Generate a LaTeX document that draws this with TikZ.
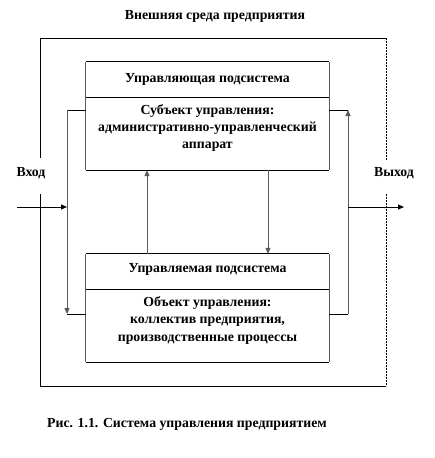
\documentclass[tikz,border=0pt]{standalone}
\usepackage{fontspec}
\setmainfont{Liberation Serif}
\usetikzlibrary{arrows.meta}
\begin{document}
\begin{tikzpicture}[x=1pt,y=-1pt,
  hl/.style={line width=0.8pt, draw=black},
  vl/.style={line width=1pt, draw=black!65},
  arr/.style={-{Triangle[length=6pt,width=5pt]}},
  txt/.style={font=\bfseries\fontsize{13.8}{17.3}\selectfont, inner sep=0pt, align=center}]
\useasboundingbox (0,0) rectangle (435,458);
% outer environment frame
\coordinate (oTL) at (40,38);
\coordinate (oTR) at (386,38);
\coordinate (oBL) at (40,386);
\coordinate (oBR) at (386,386);
\coordinate (oLg1) at (40,158);
\coordinate (oLg2) at (40,194);
\coordinate (oRg1) at (386,160);
\coordinate (oRg2) at (386,194);
\draw[hl] (oLg1) -- (oTL) -- (oTR);
\draw[hl] (oLg2) -- (oBL) -- (oBR);
\draw[line width=0.7pt, dash pattern=on 2pt off 1pt] (oTR) -- (oRg1);
\draw[line width=0.7pt, dash pattern=on 2pt off 1pt] (oRg2) -- (oBR);
\node[txt] (env) at (215,16) {Внешняя среда предприятия};
% upper box
\node[draw=none, minimum width=243pt, minimum height=36pt, inner sep=0pt] (uhead) at (207.5,80) {};
\node[draw=none, minimum width=243pt, minimum height=72pt, inner sep=0pt] (ubody) at (207.5,134) {};
\draw[hl] (uhead.north west) -- (uhead.north east);
\draw[hl] (ubody.north west) -- (ubody.north east);
\draw[hl] (ubody.south west) -- (ubody.south east);
\draw[vl] (uhead.north west) -- (ubody.south west);
\draw[vl] (uhead.north east) -- (ubody.south east);
\node[txt] (uheadt) at (207.5,79) {Управляющая подсистема};
\node[txt] (ubodyt) at (207.5,128) {Субъект управления:\\административно-управленческий\\аппарат};
% lower box
\node[draw=none, minimum width=243pt, minimum height=36pt, inner sep=0pt] (lhead) at (207.5,272) {};
\node[draw=none, minimum width=243pt, minimum height=72pt, inner sep=0pt] (lbody) at (207.5,326) {};
\draw[hl] (lhead.north west) -- (lhead.north east);
\draw[hl] (lbody.north west) -- (lbody.north east);
\draw[hl] (lbody.south west) -- (lbody.south east);
\draw[vl] (lhead.north west) -- (lbody.south west);
\draw[vl] (lhead.north east) -- (lbody.south east);
\node[txt] (lheadt) at (207.5,269) {Управляемая подсистема};
\node[txt] (lbodyt) at (207.5,320.5) {Объект управления:\\коллектив предприятия,\\производственные процессы};
% left feedback loop
\coordinate (uL) at (86,110);
\coordinate (lL) at (86,314);
\coordinate (cLT) at (67,110);
\coordinate (cLB) at (67,314);
\draw[hl] (uL) -- (cLT);
\draw[vl, arr] (cLT) -- (cLB);
\draw[hl] (cLB) -- (lL);
% right feedback loop
\coordinate (uR) at (329,110);
\coordinate (lR) at (329,314);
\coordinate (cRT) at (348,110);
\coordinate (cRB) at (348,314);
\draw[hl] (lR) -- (cRB);
\draw[vl, arr] (cRB) -- (cRT);
\draw[hl] (cRT) -- (uR);
% input / output
\coordinate (inS) at (17,207);
\coordinate (inE) at (67,207);
\coordinate (outS) at (348,207);
\coordinate (outE) at (404,207);
\draw[hl, arr] (inS) -- (inE);
\draw[hl, arr] (outS) -- (outE);
\node[txt] (vhod) at (31,173) {Вход};
\node[txt] (vyhod) at (394,173) {Выход};
% vertical links between boxes
\draw[vl, arr] (lhead.north -| 147,0) -- (ubody.south -| 147,0);
\draw[vl, arr] (ubody.south -| 268,0) -- (lhead.north -| 268,0);
% caption
\node[txt] (cap) at (187,424) {Рис. 1.1. Система управления предприятием};
\end{tikzpicture}
\end{document}
